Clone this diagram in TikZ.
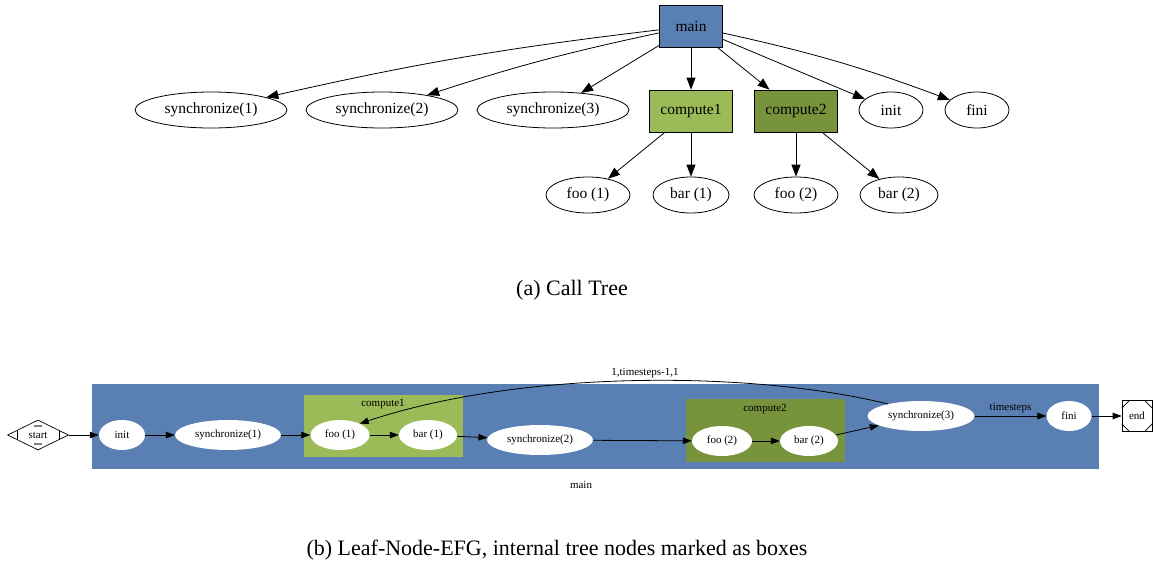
\documentclass[tikz,border=0pt]{standalone}
\usepackage{fontspec}
\setmainfont{Liberation Serif}
\usetikzlibrary{shapes.geometric,arrows.meta,calc}
\definecolor{mainblue}{HTML}{5A7FB2}
\definecolor{cgreen}{HTML}{9BBB59}
\definecolor{dgreen}{HTML}{77933C}
\begin{document}
\begin{tikzpicture}[x=1pt,y=-1pt,
  tnode/.style={font=\fontsize{15.5}{18}\selectfont, inner sep=0},
  tell/.style={tnode, draw, ellipse, line width=0.8pt, minimum height=36pt},
  tbox/.style={tnode, draw, rectangle, line width=0.8pt, minimum width=83pt, minimum height=42pt},
  tarr/.style={-{Triangle[length=12pt,width=9pt]}, line width=0.8pt},
  bell/.style={ellipse, fill=white, inner sep=0, minimum height=30pt, font=\fontsize{11}{13}\selectfont},
  barr/.style={-{Triangle[length=9pt,width=6.5pt]}, line width=0.8pt},
  lbl/.style={font=\fontsize{11}{13}\selectfont, inner sep=0},
  captxt/.style={font=\fontsize{22}{26}\selectfont, inner sep=0}
]
\useasboundingbox (0,0) rectangle (1156,570);

% ---------- (a) Call tree ----------
\node[tbox, fill=mainblue, minimum width=63pt] (main) at (691,26) {main};
\node[tell, minimum width=152pt] (s1) at (211,110) {synchronize(1)};
\node[tell, minimum width=152pt] (s2) at (382,110) {synchronize(2)};
\node[tell, minimum width=152pt] (s3) at (553,110) {synchronize(3)};
\node[tbox, fill=cgreen] (c1) at (691,111) {compute1};
\node[tbox, fill=dgreen] (c2) at (796,111) {compute2};
\node[tell, minimum width=64pt] (in) at (891,110) {init};
\node[tell, minimum width=64pt] (fi) at (977,110) {fini};
\node[tell, minimum width=84pt] (f1) at (588,195) {foo (1)};
\node[tell, minimum width=76pt] (b1) at (691,195) {bar (1)};
\node[tell, minimum width=84pt] (f2) at (796,195) {foo (2)};
\node[tell, minimum width=78pt] (b2) at (899,195) {bar (2)};

\draw[tarr] (main) to[bend right=3] (s1);
\draw[tarr] (main) to[bend right=3] (s2);
\draw[tarr] (main) -- (s3);
\draw[tarr] (main) -- (c1);
\draw[tarr] (main) -- (c2);
\draw[tarr] (main) -- (in);
\draw[tarr] (main) to[bend left=4] (fi);
\draw[tarr] (c1) -- (f1);
\draw[tarr] (c1) -- (b1);
\draw[tarr] (c2) -- (f2);
\draw[tarr] (c2) -- (b2);

\node[captxt] (capa) at (572,290) {(a) Call Tree};

% ---------- (b) Leaf-Node-EFG ----------
\fill[mainblue] (92,384) rectangle (1099,469);
\fill[cgreen] (304,395) rectangle (463,457);
\fill[dgreen] (686,399) rectangle (845,462);
\node[lbl] (lmain) at (581,485) {main};
\node[lbl] (lc1) at (383,404) {compute1};
\node[lbl] (lc2) at (765,409) {compute2};

\node[draw, diamond, aspect=2, minimum width=61pt, minimum height=30pt, inner sep=0, line width=0.7pt,
      font=\fontsize{11}{13}\selectfont] (st) at (38,435) {start};
\draw[line width=0.7pt] (17,430.5) -- (17,439.5);
\draw[line width=0.7pt] (59,430.5) -- (59,439.5);
\draw[gray, line width=1.5pt] (34,426) -- (42,426);
\draw[gray, line width=1.5pt] (34,444) -- (42,444);

\node[bell, minimum width=46pt] (bi) at (122,435) {init};
\node[bell, minimum width=106pt] (bs1) at (228,435) {synchronize(1)};
\node[bell, minimum width=59pt] (bf1) at (340,435) {foo (1)};
\node[bell, minimum width=58pt] (bb1) at (428,435) {bar (1)};
\node[bell, minimum width=106pt] (bs2) at (540,440) {synchronize(2)};
\node[bell, minimum width=60pt] (bf2) at (722,441) {foo (2)};
\node[bell, minimum width=58pt] (bb2) at (809,441) {bar (2)};
\node[bell, minimum width=107pt] (bs3) at (921,416) {synchronize(3)};
\node[bell, minimum width=45pt] (bfi) at (1069,416) {fini};
\node[draw, minimum width=30pt, minimum height=31pt, inner sep=0, line width=0.7pt,
      font=\fontsize{11}{13}\selectfont] (en) at (1137,416) {end};
\draw[line width=0.7pt] ($(en.north west)+(0,8)$) -- ($(en.north west)+(8,0)$);
\draw[line width=0.7pt] ($(en.north east)+(0,8)$) -- ($(en.north east)+(-8,0)$);
\draw[line width=0.7pt] ($(en.south west)+(0,-8)$) -- ($(en.south west)+(8,0)$);
\draw[line width=0.7pt] ($(en.south east)+(0,-8)$) -- ($(en.south east)+(-8,0)$);

\draw[barr] (st) -- (bi);
\draw[barr] (bi) -- (bs1);
\draw[barr] (bs1) -- (bf1);
\draw[barr] (bf1) -- (bb1);
\draw[barr] (bb1) -- (bs2);
\draw[barr] (bs2) -- (bf2);
\draw[barr] (bf2) -- (bb2);
\draw[barr] (bb2) -- (bs3);
\draw[barr] (bs3) -- node[lbl, above=3pt] (lts) {timesteps} (bfi);
\draw[barr] (bfi) -- (en);
\draw[barr] (bs3.160) .. controls (750,370) and (520,370) .. (bf1.30);
\node[lbl] (lloop) at (645,373) {1,timesteps-1,1};

\node[captxt] (capb) at (557,550) {(b) Leaf-Node-EFG, internal tree nodes marked as boxes};
\end{tikzpicture}
\end{document}
